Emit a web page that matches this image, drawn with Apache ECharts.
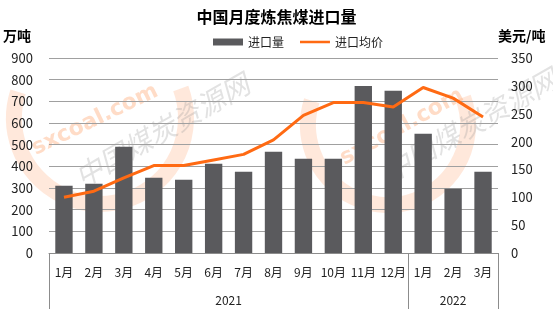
<!DOCTYPE html>
<html><head><meta charset="utf-8">
<script src="https://cdn.jsdelivr.net/npm/echarts@6/dist/echarts.min.js"></script>
<style>html,body{margin:0;padding:0;background:#fff}#c{width:553px;height:323px}</style>
</head><body><div id="c"></div>
<script>
var months = ['1月','2月','3月','4月','5月','6月','7月','8月','9月','10月','11月','12月','1月','2月','3月'];
var years = ['2021','2022'];
var yearSpans = [12, 3];
var importVolume = [310,320,490,347,338,412,375,467,435,435,771,749,550,296,375];
var importPrice = [100,111,135,157,157,167,177,203,247,270,270,262,297,278,244];
var leftTicks = [0,100,200,300,400,500,600,700,800,900];
var rightTicks = [0,50,100,150,200,250,300,350];

var font = '"Noto Sans CJK SC", "Noto Sans", sans-serif';
var yearBounds = [0]; var yearCenters = [];
yearSpans.forEach(function(s,i){ var st = yearBounds[i]; yearBounds.push(st + s); yearCenters.push(st + s/2); });

var chart = echarts.init(document.getElementById('c'), null, {renderer:'canvas'});
var wmText = {fill:'rgba(150,150,150,0.28)', font:'italic 28px "Noto Sans CJK SC"'};
var wmOrange = {fill:'rgba(255,140,70,0.30)', font:'bold 22px "DejaVu Sans"'};
chart.setOption({
  animation:false,
  title:{text:'中国月度炼焦煤进口量', left:'center', top:4,
    textStyle:{fontFamily:font, fontSize:16, fontWeight:'bold', color:'#000'}},
  legend:{left:208, top:31, itemWidth:30, itemHeight:7, itemGap:16,
    textStyle:{fontFamily:font, fontSize:12, color:'#222'},
    data:[{name:'进口量', icon:'rect'},
          {name:'进口均价', icon:'path://M0,2.2L30,2.2L30,4.8L0,4.8Z M0,0L0.01,0L0.01,0.01Z M0,7L0.01,7L0.01,7.01Z'}]},
  graphic:[
    {type:'arc', z:-10, shape:{cx:100, cy:118, r:86, startAngle:-0.35, endAngle:3.45, clockwise:true},
      style:{stroke:'rgba(255,150,90,0.22)', lineWidth:16, fill:null}},
    {type:'arc', z:-10, shape:{cx:388, cy:125, r:80, startAngle:-0.35, endAngle:3.45, clockwise:true},
      style:{stroke:'rgba(255,150,90,0.22)', lineWidth:16, fill:null}},
    {type:'text', z:-9, x:95, y:120, rotation:0.45, style:Object.assign({text:'sxcoal.com', align:'center', verticalAlign:'middle'}, wmOrange)},
    {type:'text', z:-9, x:402, y:127, rotation:0.5, style:Object.assign({text:'sxcoal.com', align:'center', verticalAlign:'middle'}, wmOrange)},
    {type:'text', z:-9, x:162, y:130, rotation:0.52, style:Object.assign({text:'中国煤炭资源网', align:'center', verticalAlign:'middle'}, wmText)},
    {type:'text', z:-9, x:470, y:125, rotation:0.52, style:Object.assign({text:'中国煤炭资源网', align:'center', verticalAlign:'middle'}, wmText)}
  ],
  grid:{left:49, right:55, top:58, bottom:70, containLabel:false},
  xAxis:[
    {type:'category', data:months, position:'bottom',
      axisLine:{lineStyle:{color:'#8c8c8c', width:1}},
      axisTick:{show:false},
      axisLabel:{fontFamily:font, fontSize:12, color:'#222', margin:13, interval:0}},
    {type:'value', min:0, max:months.length, position:'bottom',
      axisLine:{show:false}, splitLine:{show:false},
      axisTick:{show:true, length:56, customValues:yearBounds, lineStyle:{color:'#8c8c8c'}},
      axisLabel:{customValues:yearCenters, fontFamily:font, fontSize:12, color:'#222', margin:41,
        formatter:function(v){ var i = yearCenters.indexOf(v); return i>=0 ? years[i] : ''; }}}
  ],
  yAxis:[
    {type:'value', min:0, max:900, interval:100, name:'万吨', nameLocation:'end', nameGap:15,
      nameTextStyle:{fontFamily:font, fontSize:14, fontWeight:'bold', color:'#000', align:'right', padding:[0,18,0,0]},
      axisLine:{show:false}, axisTick:{show:false},
      splitLine:{lineStyle:{color:'#a0a0a0', width:1}},
      axisLabel:{fontFamily:font, fontSize:13, color:'#222', margin:16}},
    {type:'value', min:0, max:350, interval:50, name:'美元/吨', nameLocation:'end', nameGap:15,
      nameTextStyle:{fontFamily:font, fontSize:14, fontWeight:'bold', color:'#000', align:'left', padding:[0,0,0,0]},
      axisLine:{show:false}, axisTick:{show:false}, splitLine:{show:false},
      axisLabel:{fontFamily:font, fontSize:13, color:'#222', margin:13}}
  ],
  series:[
    {name:'进口量', type:'bar', data:importVolume, xAxisIndex:0, yAxisIndex:0, barWidth:'58%',
      itemStyle:{color:'#5a5a5d'}},
    {name:'进口均价', type:'line', data:importPrice, xAxisIndex:0, yAxisIndex:1, symbol:'none',
      lineStyle:{color:'#ff6a13', width:3}, itemStyle:{color:'#ff6a13'}, z:5}
  ]
});
</script></body></html>
